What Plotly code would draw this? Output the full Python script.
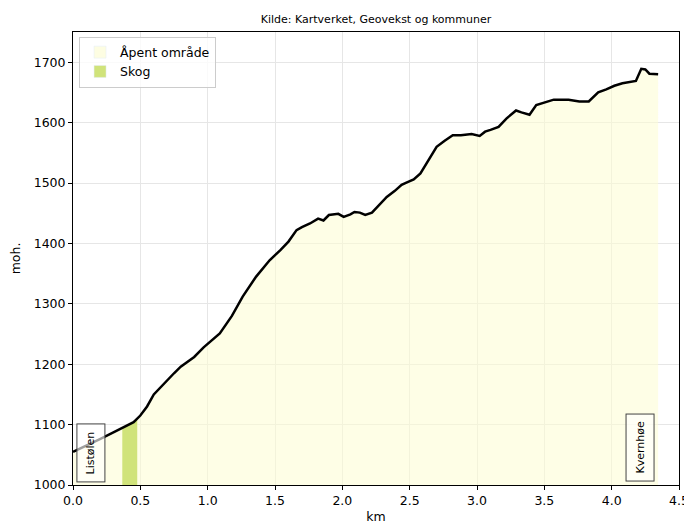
import plotly.graph_objects as go

# elevation profile (km, metres above sea level)
km = [0, 0.1, 0.2, 0.3, 0.37, 0.45, 0.5, 0.55, 0.6, 0.65, 0.7, 0.75, 0.8, 0.9, 0.97,
      1.09, 1.18, 1.26, 1.36, 1.46, 1.54, 1.6, 1.66, 1.7, 1.76, 1.82, 1.86, 1.9, 1.97,
      2.01, 2.06, 2.09, 2.13, 2.17, 2.22, 2.28, 2.33, 2.39, 2.44, 2.48, 2.53, 2.58,
      2.64, 2.70, 2.76, 2.82, 2.88, 2.96, 3.02, 3.06, 3.1, 3.16, 3.22, 3.29, 3.33,
      3.39, 3.44, 3.5, 3.57, 3.68, 3.76, 3.83, 3.9, 3.96, 4.02, 4.08, 4.13, 4.18,
      4.22, 4.25, 4.28, 4.345]
moh = [1055, 1065, 1076, 1087, 1095, 1104, 1115, 1130, 1150, 1162, 1173, 1185, 1196,
       1212, 1228, 1251, 1280, 1312, 1345, 1372, 1389, 1403, 1422, 1427, 1433, 1441,
       1438, 1447, 1449, 1444, 1448, 1452, 1451, 1447, 1451, 1465, 1477, 1487, 1497,
       1501, 1506, 1516, 1537, 1560, 1570, 1579, 1579, 1581, 1578, 1585, 1588, 1593,
       1607, 1620, 1617, 1613, 1629, 1633, 1638, 1638, 1635, 1635, 1650, 1655, 1661,
       1665, 1667, 1669, 1689, 1688, 1681, 1680]

# forest stretch
skog_km = [0.366, 0.42, 0.477]
skog_moh = [1094, 1100, 1110]

# place names
steder = ["Listølen", "Kvernhøe"]
steder_km = [0.133, 4.207]

font = "DejaVu Sans"
fig = go.Figure()

fig.add_trace(go.Scatter(x=km, y=moh, fill="tozeroy", mode="none",
                         fillcolor="rgba(253,253,210,0.55)", hoverinfo="skip",
                         showlegend=False))
fig.add_trace(go.Scatter(x=skog_km, y=skog_moh, fill="tozeroy", mode="none",
                         fillcolor="#d0e37a", showlegend=False))
fig.add_trace(go.Scatter(x=km, y=moh, mode="lines", line=dict(color="black", width=2.5),
                         showlegend=False))

# legend entries
fig.add_trace(go.Bar(x=[None], y=[None], name="Åpent område", marker_color="#fdfde2"))
fig.add_trace(go.Bar(x=[None], y=[None], name="Skog", marker_color="#d0e37a"))

for navn, x in zip(steder, steder_km):
    fig.add_annotation(x=x, y=0, yref="paper", yanchor="bottom", yshift=3,
                       text=navn, textangle=-90, showarrow=False,
                       font=dict(family=font, size=11, color="black"),
                       bgcolor="rgba(255,255,255,0.62)", bordercolor="#444",
                       borderwidth=1, borderpad=7)

axis = dict(showline=True, linecolor="black", linewidth=1, mirror=True, automargin=False,
            ticks="outside", ticklen=4, tickcolor="black", gridcolor="#e6e6e6",
            zeroline=False, tickfont=dict(family=font, size=12.5, color="black"))

# the page puts the figure 8 px in from the top left corner
fig.update_layout(
    width=684, height=516,
    margin=dict(l=65, r=13, t=24, b=39, autoexpand=False),
    plot_bgcolor="white", paper_bgcolor="white",
    title=dict(text="Kilde: Kartverket, Geovekst og kommuner", x=0.5, xanchor="center",
               xref="paper", y=1 - 11 / 516, yanchor="middle",
               font=dict(family=font, size=11, color="black")),
    xaxis=dict(range=[0, 4.5], dtick=0.5, tickformat=".1f",
               title=dict(text="km", standoff=6,
                          font=dict(family=font, size=12.5, color="black")),
               **axis),
    yaxis=dict(range=[1000, 1750], dtick=100,
               title=dict(text="moh.", standoff=10,
                          font=dict(family=font, size=12.5, color="black")),
               **axis),
    legend=dict(x=0.01, y=0.99, xanchor="left", yanchor="top",
                bgcolor="rgba(255,255,255,0.8)", bordercolor="#cccccc", borderwidth=1,
                font=dict(family=font, size=12.5, color="black")),
    barmode="overlay",
)

fig.write_html("out.html")
